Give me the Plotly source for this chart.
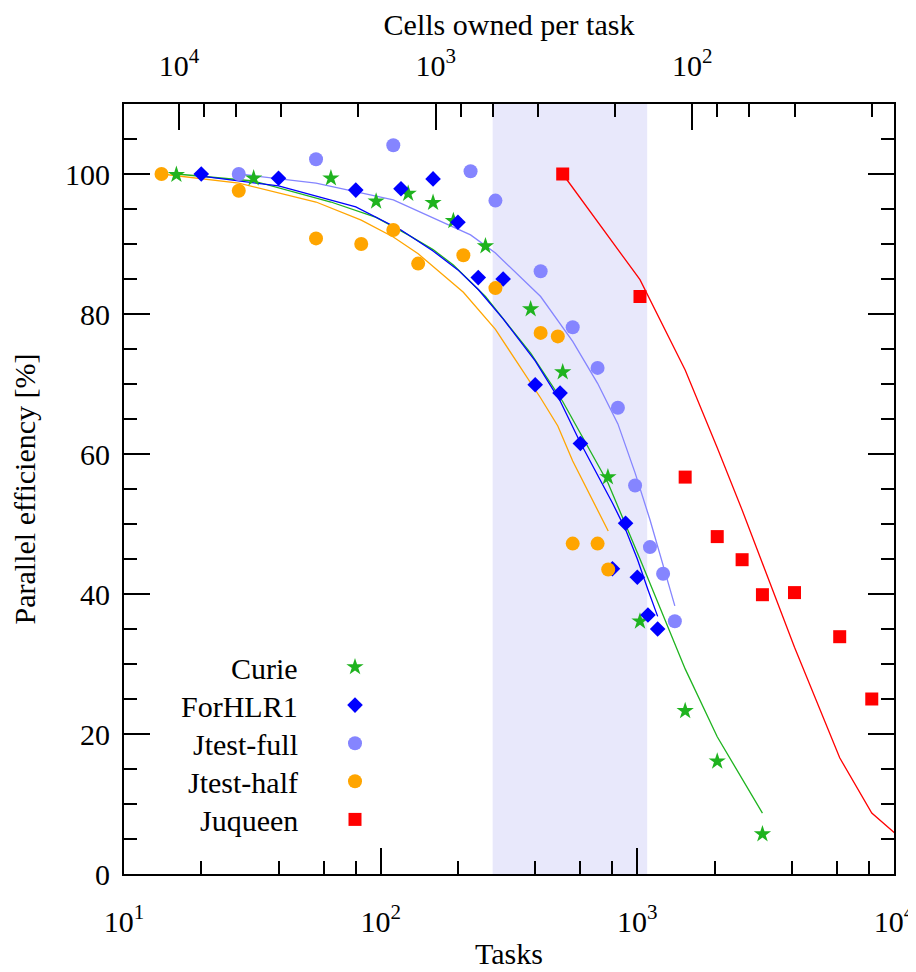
import plotly.graph_objects as go
import numpy as np

# ---------------- data ----------------
CELLS_TOTAL = 163840  # cells per task = CELLS_TOTAL / tasks

curie_tasks = [16, 32, 64, 96, 128, 160, 192, 256, 384, 512, 768, 1024, 1536, 2048, 3072]
curie_eff = [99.9, 99.4, 99.4, 96.1, 97.2, 95.9, 93.3, 89.7, 80.7, 71.7, 56.7, 36.1, 23.3, 16.1, 5.7]
curie_model = [100, 99.0, 96.0, 93.8, 91.3, 89.2, 87.0, 82.5, 74.4, 67.5, 55.9, 45.0, 29.3, 19.6, 8.7]

forhlr_tasks = [20, 40, 80, 120, 160, 200, 240, 300, 400, 500, 600, 800, 900, 1000, 1100, 1200]
forhlr_eff = [100, 99.4, 97.7, 97.9, 99.3, 93.1, 85.2, 85.0, 69.9, 68.7, 61.5, 43.6, 50.1, 42.4, 37.0, 35.0]
forhlr_model = [99.7, 98.3, 95.3, 92.0, 89.0, 86.3, 83.5, 79.3, 73.3, 67.6, 61.6, 53.0, 49.2, 45.0, 40.6, 36.8]

jfull_tasks = [28, 56, 112, 224, 280, 420, 560, 700, 840, 980, 1120, 1260, 1400]
jfull_eff = [100, 102.1, 104.1, 100.4, 96.2, 86.1, 78.1, 72.3, 66.6, 55.5, 46.7, 42.9, 36.1]
jfull_model = [100, 98.7, 96.3, 91.3, 88.7, 82.5, 76.1, 70.1, 64.3, 57.3, 50.6, 44.3, 38.3]

jhalf_tasks = [14, 28, 56, 84, 112, 140, 210, 280, 420, 490, 560, 700, 770]
jhalf_eff = [100, 97.6, 90.8, 90.0, 92.0, 87.2, 88.4, 83.7, 77.3, 76.8, 47.2, 47.2, 43.5]
jhalf_model = [100, 98.7, 96.0, 93.4, 91.0, 88.6, 83.1, 77.8, 68.0, 64.0, 59.0, 52.0, 49.0]

juq_tasks = [512, 1024, 1536, 2048, 2560, 3072, 4096, 6144, 8192]
juq_eff = [100, 82.5, 56.7, 48.2, 44.9, 39.9, 40.2, 33.9, 25.0]
juq_model_tasks = [512, 1024, 1536, 2048, 2560, 3072, 4096, 6144, 8192, 12288]
juq_model = [100, 84.9, 72.0, 60.9, 52.0, 44.4, 32.4, 16.6, 8.7, 3.1]

shade_cells = [600, 150]  # highlighted range in cells per task

names = ["Curie", "ForHLR1", "Jtest-full", "Jtest-half", "Juqueen"]
colors = ["#1fb31f", "#0000ff", "#8585ff", "#ffa500", "#ff0000"]
symbols = ["star", "diamond", "circle", "circle", "square"]
sizes = [13, 12, 14, 14, 13]

x_tickvals = [10, 100, 1000, 10000]
x_ticktext = ["10<sup>1</sup>", "10<sup>2</sup>", "10<sup>3</sup>", "10<sup>4</sup>"]
x_minor = [m * 10 ** e for e in range(1, 4) for m in (2, 4, 6, 8)]
top_tickvals = [10000, 1000, 100]
top_ticktext = ["10<sup>4</sup>", "10<sup>3</sup>", "10<sup>2</sup>"]
top_minor = [m * 10 ** e for e in range(1, 4) for m in (2, 4, 6, 8)]
y_tickvals = [0, 20, 40, 60, 80, 100]

series_pts = [(curie_tasks, curie_eff), (forhlr_tasks, forhlr_eff), (jfull_tasks, jfull_eff),
              (jhalf_tasks, jhalf_eff), (juq_tasks, juq_eff)]
series_lines = [(curie_tasks, curie_model), (forhlr_tasks, forhlr_model), (jfull_tasks, jfull_model),
                (jhalf_tasks, jhalf_model), (juq_model_tasks, juq_model)]

# ---------------- figure ----------------
FONT = "'Liberation Serif', 'Times New Roman', 'DejaVu Serif', serif"
fig = go.Figure()

for (xs, ys), c in zip(series_lines, colors):
    fig.add_trace(go.Scatter(x=xs, y=ys, mode="lines", line=dict(color=c, width=1.3),
                             showlegend=False, hoverinfo="skip"))

for (xs, ys), n, c, s, sz in zip(series_pts, names, colors, symbols, sizes):
    fig.add_trace(go.Scatter(x=xs, y=ys, mode="markers", name="",
                             marker=dict(color=c, symbol=s, size=sz, line=dict(width=0)),
                             showlegend=True, hovertext=n))

# invisible trace to activate the top axis
fig.add_trace(go.Scatter(x=top_tickvals, y=[None] * len(top_tickvals), xaxis="x2",
                         mode="markers", showlegend=False, hoverinfo="skip"))

# shaded region (converted from cells per task to tasks)
fig.add_shape(type="rect", xref="x", yref="paper",
              x0=CELLS_TOTAL / shade_cells[0], x1=CELLS_TOTAL / shade_cells[1],
              y0=0, y1=1, fillcolor="#e8e8fb", line=dict(width=0), layer="below")

# page has an 8px body margin: figure is placed at (8, 8)
OFF = 8
W, H = 916 - OFF, 972 - OFF
L, T = 124 - OFF, 104 - OFF
pw, ph = 770, 770
R, B = W - L - pw, H - T - ph

def px_to_paper(px, py):
    # px, py are page pixel coordinates
    return (px - OFF - L) / pw, (T + ph - (py - OFF)) / ph

# legend labels (right aligned, gnuplot style)
leg_y0, leg_dy = 668, 38.1
for i, n in enumerate(names):
    ax_, ay_ = px_to_paper(300, leg_y0 + i * leg_dy)
    fig.add_annotation(x=ax_, y=ay_, xref="paper", yref="paper", text=n, showarrow=False,
                       xanchor="right", yanchor="middle", font=dict(family=FONT, size=30, color="black"))

# bottom axis title
tx, ty = px_to_paper(509, 953)
fig.add_annotation(x=tx, y=ty, xref="paper", yref="paper", text="Tasks", showarrow=False,
                   xanchor="center", yanchor="middle", font=dict(family=FONT, size=30, color="black"))

lx, ly = px_to_paper(335, leg_y0 - leg_dy / 2 - 6)

axis_common = dict(showline=True, linecolor="black", linewidth=2, ticks="inside",
                   tickcolor="black", showgrid=False, zeroline=False, automargin=False,
                   ticklabeloverflow="allow")

lo = np.log10(CELLS_TOTAL / 10)
hi = np.log10(CELLS_TOTAL / 10000)

fig.update_layout(
    width=W, height=H, margin=dict(l=L, r=R, t=T, b=B),
    plot_bgcolor="white", paper_bgcolor="white",
    font=dict(family=FONT, size=28, color="black"),
    xaxis=dict(type="log", range=[1, 4], tickvals=x_tickvals, ticktext=x_ticktext,
               ticklen=26, tickwidth=1.5, mirror=True, ticklabelstandoff=20,
               minor=dict(tickvals=x_minor, ticklen=13, tickwidth=1.5, ticks="inside", tickcolor="black"),
               tickfont=dict(family=FONT, size=30), **axis_common),
    xaxis2=dict(type="log", range=[lo, hi], overlaying="x", side="top", anchor="y",
                tickvals=top_tickvals, ticktext=top_ticktext, ticklen=26, tickwidth=1.5,
                ticklabelstandoff=14,
                minor=dict(tickvals=top_minor, ticklen=13, tickwidth=1.5, ticks="inside", tickcolor="black"),
                title=dict(text="Cells owned per task", font=dict(family=FONT, size=30), standoff=18),
                tickfont=dict(family=FONT, size=30), **axis_common),
    yaxis=dict(range=[0, 110], tickvals=y_tickvals, ticklen=26, tickwidth=1.5, mirror="ticks",
               ticklabelstandoff=6,
               minor=dict(dtick=5, ticklen=13, tickwidth=1.5, ticks="inside", tickcolor="black"),
               title=dict(text="Parallel efficiency [%]", font=dict(family=FONT, size=30), standoff=22),
               tickfont=dict(family=FONT, size=30), **axis_common),
    legend=dict(x=lx, y=ly, xanchor="left", yanchor="top", bgcolor="rgba(0,0,0,0)",
                font=dict(size=27), borderwidth=0, tracegroupgap=0),
)

fig.write_html("out.html")
